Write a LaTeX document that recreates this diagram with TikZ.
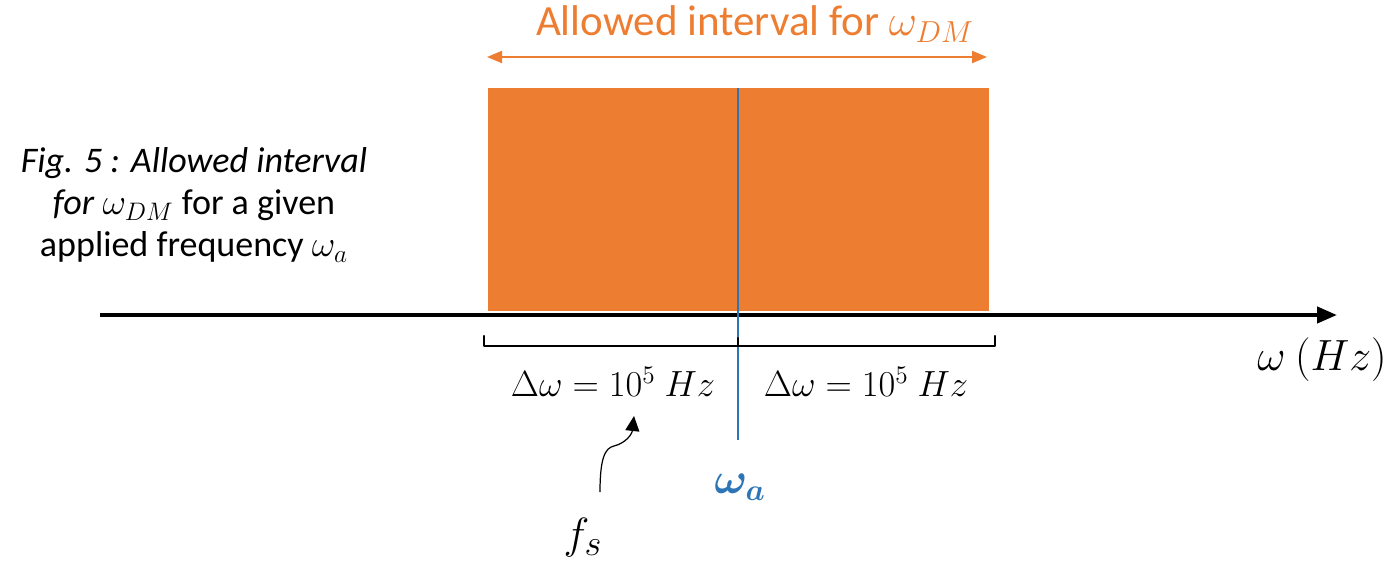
\documentclass[tikz,border=0pt]{standalone}
\usepackage{amsmath}
\usepackage{fontspec}
\setmainfont{Carlito}
\usetikzlibrary{arrows.meta, positioning, calc}
\definecolor{bandorange}{HTML}{ED7D31}
\definecolor{centreblue}{HTML}{2E75B6}

\begin{document}
\begin{tikzpicture}[
  x=0.02cm, y=-0.02cm,
  band/.style={fill=bandorange, draw=none, inner sep=0pt, anchor=north west,
    minimum width=10.02cm, minimum height=4.46cm},
  axisline/.style={line width=2.3pt, -{Triangle[length=0.4cm, width=0.32cm]}},
  centreline/.style={draw=centreblue, line width=1.4pt},
  spanarrow/.style={draw=bandorange, line width=1.2pt, {Triangle[length=0.3cm, width=0.24cm]}-{Triangle[length=0.3cm, width=0.24cm]}},
  bracketline/.style={line width=1.3pt, line cap=round, line join=round},
  pointer/.style={line width=0.7pt, -{Triangle[length=0.3cm, width=0.28cm]}},
  mathlabel/.style={font=\fontsize{22.3}{27}\selectfont, inner sep=1pt},
  caption/.style={font=\fontsize{20.5}{24}\selectfont, align=center, inner sep=0pt}
]
\useasboundingbox (0,0) rectangle (1391,561);

\node[band] (band) at (488,88) {};

\coordinate (axstart) at (100,315);
\coordinate (axend) at (1337,315);
\draw[axisline] (axstart) -- (axend);
\node[mathlabel, font=\fontsize{24}{28}\selectfont] (axlabel) at (1322,360) {$\omega\ (Hz)$};

\coordinate (spanleft) at (487,57);
\coordinate (spanright) at (987,57);
\draw[spanarrow] (spanleft) -- (spanright);
\node[font=\fontsize{24.5}{28}\selectfont, text=bandorange] (spanlabel) at (755,24) {Allowed interval for $\omega_{DM}$};

\coordinate (centretop) at (738,88);
\coordinate (centrefoot) at (738,440);
\draw[centreline] (centretop) -- (centrefoot);
\node[mathlabel, font=\fontsize{27}{30}\selectfont, text=centreblue] (omegaa) at (740,487) {$\boldsymbol{\omega_a}$};

\draw[bracketline] (484,336) -- (484,346) -- (995,346) -- (995,336);
\draw[bracketline] (738,346) -- (738,338);

\node[mathlabel] (dleft) at (613,382) {$\Delta\omega = 10^5\ Hz$};
\node[mathlabel] (dright) at (866,382) {$\Delta\omega = 10^5\ Hz$};

\node[mathlabel, font=\fontsize{30}{34}\selectfont] (fs) at (583,538) {$f_s$};
\coordinate (fsfoot) at (600,492);
\coordinate (fstip) at (634,416);
\draw[pointer] (fsfoot) .. controls (600,458) and (605,448) .. (614,446)
  .. controls (626,443) and (632,434) .. (fstip);

\node[caption] (caption) at (194,205) {\textit{Fig. 5 : Allowed interval}\\
  \textit{for} $\omega_{DM}$ for a given\\ applied frequency $\omega_a$};
\end{tikzpicture}
\end{document}
